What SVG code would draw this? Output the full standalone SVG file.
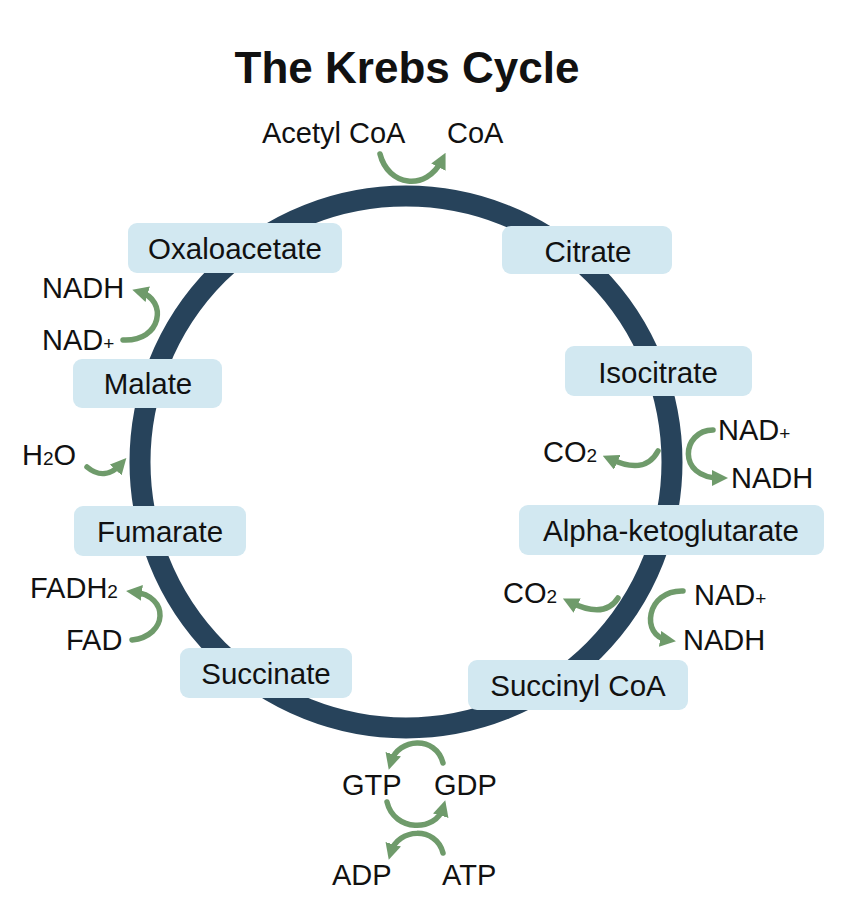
<svg xmlns="http://www.w3.org/2000/svg" width="848" height="904" viewBox="0 0 848 904">
<style>
text{font-family:"Liberation Sans",Arial,sans-serif;fill:#111;}
.t{font-size:29px;}
.b{font-size:29.5px;text-anchor:middle;}
.s{font-size:19px;}
.box{fill:#d2e8f1;}
.arr{fill:none;stroke:#6f9b6b;stroke-width:5.5;stroke-linecap:round;marker-end:url(#ah);}
</style>
<defs>
<marker id="ah" markerUnits="userSpaceOnUse" markerWidth="16" markerHeight="16" refX="8" refY="8" orient="auto">
<path d="M0,0 L16,8 L0,16 z" fill="#6f9b6b"/>
</marker>
</defs>
<rect width="848" height="904" fill="#fff"/>
<text x="407" y="83" style="font-size:44px;font-weight:bold;text-anchor:middle">The Krebs Cycle</text>
<g id="ring"><circle cx="406" cy="462" r="266" fill="none" stroke="#27435b" stroke-width="21"/></g>
<g id="connectors">
<path class="arr" d="M380,154 C388,186 426,192 442,160"/>
<path class="arr" d="M123,340 C162,342 168,300 140,292"/>
<path class="arr" d="M87,467 C100,478 112,474 121,464"/>
<path class="arr" d="M132,640 C168,636 170,596 134,592"/>
<path class="arr" d="M658,451 C648,470 630,468 610,459"/>
<path class="arr" d="M713,430 C682,430 676,478 720,478"/>
<path class="arr" d="M618,598 C608,614 590,612 570,602"/>
<path class="arr" d="M683,591 C646,590 640,636 668,640"/>
<path class="arr" d="M443,763 C436,735 398,738 391,762"/>
<path class="arr" d="M387,802 C394,832 436,832 443,808"/>
<path class="arr" d="M443,853 C436,826 398,828 391,852"/>
</g>
<g id="oxaloacetate"><rect class="box" x="128" y="223" width="214" height="50" rx="9"/><text class="b" x="235" y="259">Oxaloacetate</text></g>
<g id="citrate"><rect class="box" x="502" y="226" width="170" height="48" rx="9"/><text class="b" x="588" y="262">Citrate</text></g>
<g id="isocitrate"><rect class="box" x="565" y="346" width="187" height="50" rx="9"/><text class="b" x="658" y="383">Isocitrate</text></g>
<g id="alpha"><rect class="box" x="519" y="505" width="305" height="50" rx="9"/><text class="b" x="671" y="541">Alpha-ketoglutarate</text></g>
<g id="succinylcoa"><rect class="box" x="468" y="660" width="220" height="50" rx="9"/><text class="b" x="578" y="696">Succinyl CoA</text></g>
<g id="succinate"><rect class="box" x="180" y="648" width="172" height="50" rx="9"/><text class="b" x="266" y="684">Succinate</text></g>
<g id="fumarate"><rect class="box" x="74" y="506" width="172" height="50" rx="9"/><text class="b" x="160" y="542">Fumarate</text></g>
<g id="malate"><rect class="box" x="73" y="359" width="149" height="49" rx="9"/><text class="b" x="148" y="394">Malate</text></g>
<g id="labels">
<text class="t" x="262" y="143">Acetyl CoA</text>
<text class="t" x="447" y="143">CoA</text>
<text class="t" x="42" y="298">NADH</text>
<text class="t" x="42" y="350">NAD<tspan class="s">+</tspan></text>
<text class="t" x="22" y="465">H<tspan class="s">2</tspan>O</text>
<text class="t" x="30" y="598">FADH<tspan class="s">2</tspan></text>
<text class="t" x="66" y="650">FAD</text>
<text class="t" x="543" y="462">CO<tspan class="s">2</tspan></text>
<text class="t" x="718" y="440">NAD<tspan class="s">+</tspan></text>
<text class="t" x="731" y="488">NADH</text>
<text class="t" x="503" y="603">CO<tspan class="s">2</tspan></text>
<text class="t" x="694" y="605">NAD<tspan class="s">+</tspan></text>
<text class="t" x="683" y="650">NADH</text>
<text class="t" x="342" y="795">GTP</text>
<text class="t" x="434" y="795">GDP</text>
<text class="t" x="332" y="885">ADP</text>
<text class="t" x="442" y="885">ATP</text>
</g>
</svg>
